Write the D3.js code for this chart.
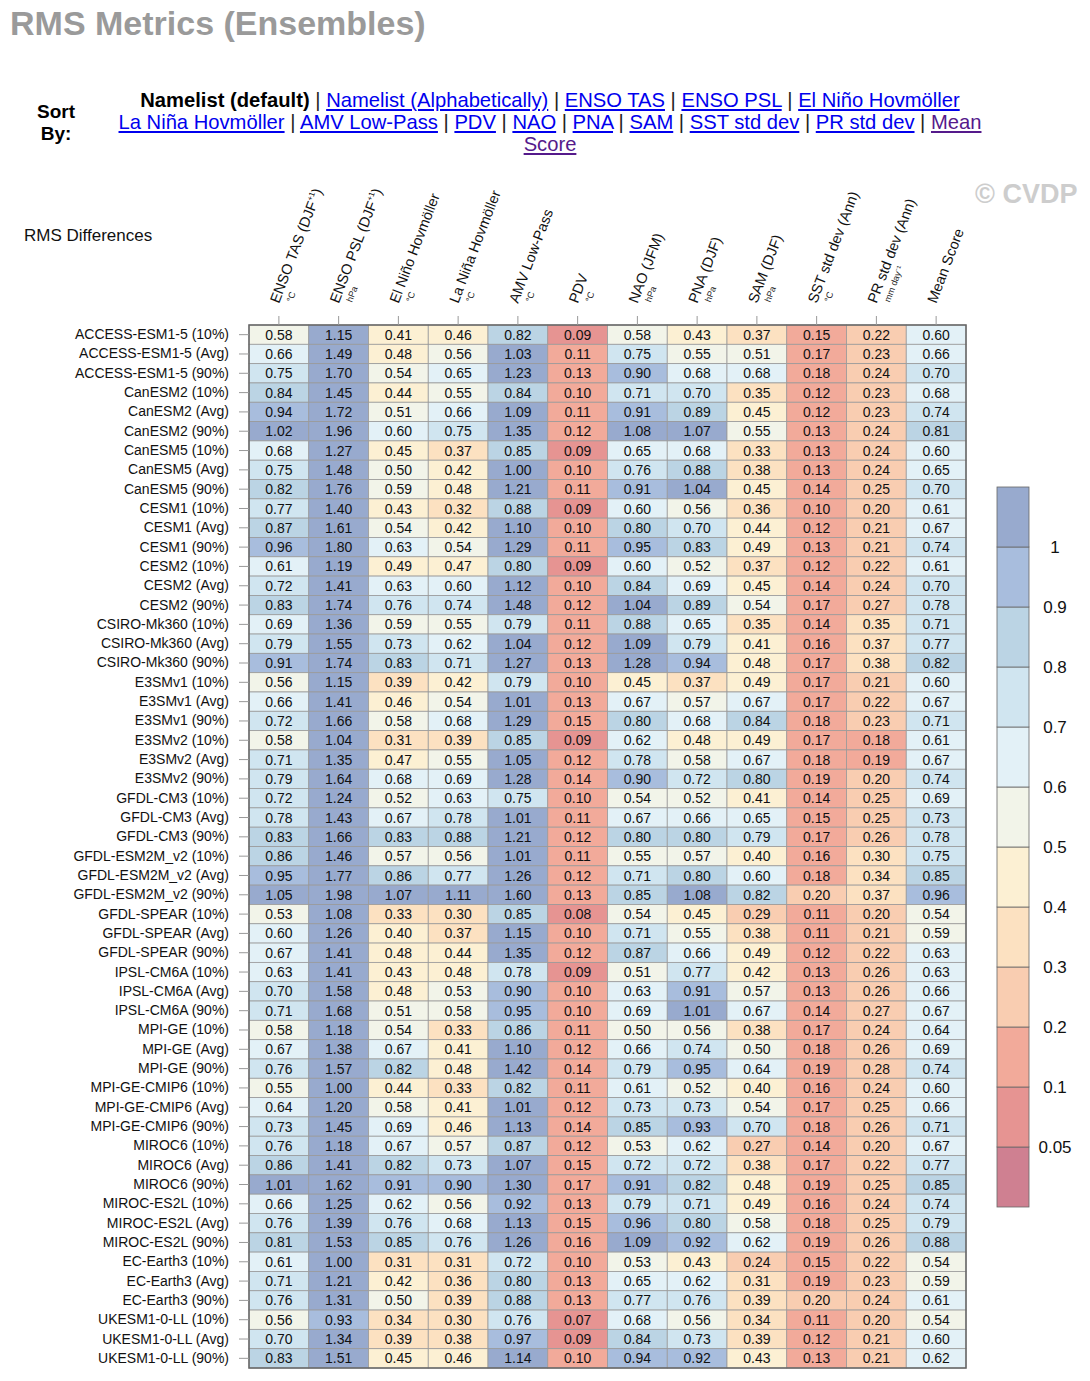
<!DOCTYPE html>
<html><head><meta charset="utf-8">
<script src="https://cdn.jsdelivr.net/npm/d3@7"></script>
<style>
body{margin:0;background:#fff;font-family:"Liberation Sans",Arial,Helvetica,sans-serif;}
#sortlabel{position:absolute;left:20px;width:72px;top:101px;text-align:center;font-weight:bold;font-size:19px;line-height:22px;color:#000;}
#links{position:absolute;left:50px;width:1000px;top:89px;text-align:center;font-size:20.2px;line-height:22px;color:#222;}
#links a{color:#0000ee;text-decoration:underline;}
#links a.visited{color:#551a8b;}
#links b{color:#000;}
</style></head>
<body>
<svg id="chart" width="1090" height="1381" style="position:absolute;left:0;top:0"></svg>
<div id="sortlabel">Sort<br>By:</div>
<div id="links"></div>
<script>
// ---------- data ----------
const models = ["ACCESS-ESM1-5","CanESM2","CanESM5","CESM1","CESM2","CSIRO-Mk360","E3SMv1","E3SMv2","GFDL-CM3","GFDL-ESM2M_v2","GFDL-SPEAR","IPSL-CM6A","MPI-GE","MPI-GE-CMIP6","MIROC6","MIROC-ES2L","EC-Earth3","UKESM1-0-LL"];
const stats = ["10%","Avg","90%"];
const metrics = ["ENSO TAS (DJF+1)","ENSO PSL (DJF+1)","El Niño Hovmöller","La Niña Hovmöller","AMV Low-Pass","PDV","NAO (JFM)","PNA (DJF)","SAM (DJF)","SST std dev (Ann)","PR std dev (Ann)","Mean Score"];
const units = ["°C","hPa","°C","°C","°C","°C","hPa","hPa","hPa","°C","mm day⁻¹",""];
const ensoTas = [0.58,0.66,0.75,0.84,0.94,1.02,0.68,0.75,0.82,0.77,0.87,0.96,0.61,0.72,0.83,0.69,0.79,0.91,0.56,0.66,0.72,0.58,0.71,0.79,0.72,0.78,0.83,0.86,0.95,1.05,0.53,0.60,0.67,0.63,0.70,0.71,0.58,0.67,0.76,0.55,0.64,0.73,0.76,0.86,1.01,0.66,0.76,0.81,0.61,0.71,0.76,0.56,0.70,0.83];
const ensoPsl = [1.15,1.49,1.70,1.45,1.72,1.96,1.27,1.48,1.76,1.40,1.61,1.80,1.19,1.41,1.74,1.36,1.55,1.74,1.15,1.41,1.66,1.04,1.35,1.64,1.24,1.43,1.66,1.46,1.77,1.98,1.08,1.26,1.41,1.41,1.58,1.68,1.18,1.38,1.57,1.00,1.20,1.45,1.18,1.41,1.62,1.25,1.39,1.53,1.00,1.21,1.31,0.93,1.34,1.51];
const elNino = [0.41,0.48,0.54,0.44,0.51,0.60,0.45,0.50,0.59,0.43,0.54,0.63,0.49,0.63,0.76,0.59,0.73,0.83,0.39,0.46,0.58,0.31,0.47,0.68,0.52,0.67,0.83,0.57,0.86,1.07,0.33,0.40,0.48,0.43,0.48,0.51,0.54,0.67,0.82,0.44,0.58,0.69,0.67,0.82,0.91,0.62,0.76,0.85,0.31,0.42,0.50,0.34,0.39,0.45];
const laNina = [0.46,0.56,0.65,0.55,0.66,0.75,0.37,0.42,0.48,0.32,0.42,0.54,0.47,0.60,0.74,0.55,0.62,0.71,0.42,0.54,0.68,0.39,0.55,0.69,0.63,0.78,0.88,0.56,0.77,1.11,0.30,0.37,0.44,0.48,0.53,0.58,0.33,0.41,0.48,0.33,0.41,0.46,0.57,0.73,0.90,0.56,0.68,0.76,0.31,0.36,0.39,0.30,0.38,0.46];
const amv = [0.82,1.03,1.23,0.84,1.09,1.35,0.85,1.00,1.21,0.88,1.10,1.29,0.80,1.12,1.48,0.79,1.04,1.27,0.79,1.01,1.29,0.85,1.05,1.28,0.75,1.01,1.21,1.01,1.26,1.60,0.85,1.15,1.35,0.78,0.90,0.95,0.86,1.10,1.42,0.82,1.01,1.13,0.87,1.07,1.30,0.92,1.13,1.26,0.72,0.80,0.88,0.76,0.97,1.14];
const pdv = [0.09,0.11,0.13,0.10,0.11,0.12,0.09,0.10,0.11,0.09,0.10,0.11,0.09,0.10,0.12,0.11,0.12,0.13,0.10,0.13,0.15,0.09,0.12,0.14,0.10,0.11,0.12,0.11,0.12,0.13,0.08,0.10,0.12,0.09,0.10,0.10,0.11,0.12,0.14,0.11,0.12,0.14,0.12,0.15,0.17,0.13,0.15,0.16,0.10,0.13,0.13,0.07,0.09,0.10];
const nao = [0.58,0.75,0.90,0.71,0.91,1.08,0.65,0.76,0.91,0.60,0.80,0.95,0.60,0.84,1.04,0.88,1.09,1.28,0.45,0.67,0.80,0.62,0.78,0.90,0.54,0.67,0.80,0.55,0.71,0.85,0.54,0.71,0.87,0.51,0.63,0.69,0.50,0.66,0.79,0.61,0.73,0.85,0.53,0.72,0.91,0.79,0.96,1.09,0.53,0.65,0.77,0.68,0.84,0.94];
const pna = [0.43,0.55,0.68,0.70,0.89,1.07,0.68,0.88,1.04,0.56,0.70,0.83,0.52,0.69,0.89,0.65,0.79,0.94,0.37,0.57,0.68,0.48,0.58,0.72,0.52,0.66,0.80,0.57,0.80,1.08,0.45,0.55,0.66,0.77,0.91,1.01,0.56,0.74,0.95,0.52,0.73,0.93,0.62,0.72,0.82,0.71,0.80,0.92,0.43,0.62,0.76,0.56,0.73,0.92];
const sam = [0.37,0.51,0.68,0.35,0.45,0.55,0.33,0.38,0.45,0.36,0.44,0.49,0.37,0.45,0.54,0.35,0.41,0.48,0.49,0.67,0.84,0.49,0.67,0.80,0.41,0.65,0.79,0.40,0.60,0.82,0.29,0.38,0.49,0.42,0.57,0.67,0.38,0.50,0.64,0.40,0.54,0.70,0.27,0.38,0.48,0.49,0.58,0.62,0.24,0.31,0.39,0.34,0.39,0.43];
const sstStd = [0.15,0.17,0.18,0.12,0.12,0.13,0.13,0.13,0.14,0.10,0.12,0.13,0.12,0.14,0.17,0.14,0.16,0.17,0.17,0.17,0.18,0.17,0.18,0.19,0.14,0.15,0.17,0.16,0.18,0.20,0.11,0.11,0.12,0.13,0.13,0.14,0.17,0.18,0.19,0.16,0.17,0.18,0.14,0.17,0.19,0.16,0.18,0.19,0.15,0.19,0.20,0.11,0.12,0.13];
const prStd = [0.22,0.23,0.24,0.23,0.23,0.24,0.24,0.24,0.25,0.20,0.21,0.21,0.22,0.24,0.27,0.35,0.37,0.38,0.21,0.22,0.23,0.18,0.19,0.20,0.25,0.25,0.26,0.30,0.34,0.37,0.20,0.21,0.22,0.26,0.26,0.27,0.24,0.26,0.28,0.24,0.25,0.26,0.20,0.22,0.25,0.24,0.25,0.26,0.22,0.23,0.24,0.20,0.21,0.21];
const meanScore = [0.60,0.66,0.70,0.68,0.74,0.81,0.60,0.65,0.70,0.61,0.67,0.74,0.61,0.70,0.78,0.71,0.77,0.82,0.60,0.67,0.71,0.61,0.67,0.74,0.69,0.73,0.78,0.75,0.85,0.96,0.54,0.59,0.63,0.63,0.66,0.67,0.64,0.69,0.74,0.60,0.66,0.71,0.67,0.77,0.85,0.74,0.79,0.88,0.54,0.59,0.61,0.54,0.60,0.62];
const levels = [0.05,0.1,0.2,0.3,0.4,0.5,0.6,0.7,0.8,0.9,1];
const levelLabels = ["0.05","0.1","0.2","0.3","0.4","0.5","0.6","0.7","0.8","0.9","1"];
const palette = ["#cf8091","#e69492","#f2aa9a","#f9cdb1","#fce1c1","#fcf0d3","#f2f4e9","#e3f1f7","#d0e5f0","#bbd4e4","#a8bddd","#98aace"];
const sortLinks = [["Namelist (default)","b"],["Namelist (Alphabetically)","a"],["ENSO TAS","a"],["ENSO PSL","a"],["El Niño Hovmöller","a",true],["La Niña Hovmöller","a"],["AMV Low-Pass","a"],["PDV","a"],["NAO","a"],["PNA","a"],["SAM","a"],["SST std dev","a"],["PR std dev","a"],["Mean<br>Score","v"]];

const columns = [ensoTas,ensoPsl,elNino,laNina,amv,pdv,nao,pna,sam,sstStd,prStd,meanScore];
const rowLabels = models.flatMap(m => stats.map(s => `${m} (${s})`));
const cells = [];
rowLabels.forEach((r,i) => metrics.forEach((m,j) => cells.push({row:r, col:m, v:columns[j][i]})));

// ---------- sort links (HTML) ----------
document.getElementById("links").innerHTML = sortLinks.map((d,i) => {
  const t = d[1]==="b" ? `<b>${d[0]}</b>` : `<a href="#" class="${d[1]==="v"?"visited":""}">${d[0]}</a>`;
  const sep = i < sortLinks.length-1 ? (d[2] ? " <br>" : " | ") : "";
  return t + sep;
}).join("");

// ---------- chart ----------
const svg = d3.select("#chart");
const font = '"Liberation Sans",Arial,Helvetica,sans-serif';

svg.append("text").attr("x",10).attr("y",35).attr("font-family",font).attr("font-weight","bold")
  .attr("font-size",34).attr("fill","#9a9a9a").text("RMS Metrics (Ensembles)");
svg.append("text").attr("x",975).attr("y",203).attr("font-family",font).attr("font-weight","bold")
  .attr("font-size",27).attr("fill","#cdcdcd").text("© CVDP");
svg.append("text").attr("x",24).attr("y",241).attr("font-family",font)
  .attr("font-size",17).attr("fill","#111").text("RMS Differences");

const x = d3.scaleBand().domain(metrics).range([249,966]);
const y = d3.scaleBand().domain(rowLabels).range([325,1368]);
const color = d3.scaleThreshold().domain(levels).range(palette);

// cells
svg.append("g").selectAll("rect").data(cells).join("rect")
  .attr("x",d=>x(d.col)).attr("y",d=>y(d.row))
  .attr("width",x.bandwidth()).attr("height",y.bandwidth())
  .attr("fill",d=>color(d.v)).attr("stroke","#9a9a9a").attr("stroke-width",0.8);
svg.append("rect").attr("x",249).attr("y",325).attr("width",717).attr("height",1043)
  .attr("fill","none").attr("stroke","#666").attr("stroke-width",1.5);
svg.append("g").selectAll("text").data(cells).join("text")
  .attr("x",d=>x(d.col)+x.bandwidth()/2).attr("y",d=>y(d.row)+y.bandwidth()/2)
  .attr("dy","0.36em").attr("text-anchor","middle").attr("font-family",font)
  .attr("font-size",14).attr("fill","#111").text(d=>d.v.toFixed(2));

// left axis
const ya = svg.append("g").attr("transform","translate(249,0)")
  .call(d3.axisLeft(y).tickSize(10).tickPadding(10));
ya.select(".domain").remove();
ya.selectAll("line").attr("stroke","#999");
ya.selectAll("text").attr("font-family",font).attr("font-size",14).attr("fill","#111");

// top axis ticks
const xa = svg.append("g").attr("transform","translate(0,325)")
  .call(d3.axisTop(x).tickSize(9).tickFormat(""));
xa.select(".domain").remove();
xa.selectAll("line").attr("stroke","#999");

const hdr = svg.append("g").selectAll("g").data(metrics).join("g")
  .attr("transform",d=>`translate(${x(d)+x.bandwidth()/2},304) rotate(-69)`);
hdr.append("text").attr("font-family",font).attr("font-size",14.5).attr("fill","#111")
  .each(function(d){
    const t = d3.select(this);
    if (d.endsWith("(DJF+1)")) {
      t.append("tspan").text(d.replace("(DJF+1)","(DJF"));
      t.append("tspan").attr("font-size",8).attr("dy",-6).text("+1");
      t.append("tspan").attr("dy",6).text(")");
    } else t.text(d);
  });
hdr.append("text").data(units).attr("x",6).attr("y",12).attr("font-family",font)
  .attr("font-size",9).attr("fill","#222").text(d=>d);

// colorbar
const cb = d3.scaleBand().domain(d3.range(palette.length).reverse()).range([487,1207]).paddingInner(0);
svg.append("g").selectAll("rect").data(d3.range(palette.length)).join("rect")
  .attr("x",997).attr("y",d=>cb(d)).attr("width",32).attr("height",cb.bandwidth())
  .attr("fill",d=>palette[d]).attr("stroke","#666").attr("stroke-width",0.8);
svg.append("g").selectAll("text").data(levelLabels).join("text")
  .attr("x",1055).attr("y",(d,i)=>cb(i)).attr("dy","0.36em").attr("text-anchor","middle")
  .attr("font-family",font).attr("font-size",17).attr("fill","#111").text(d=>d);
</script>
</body></html>
